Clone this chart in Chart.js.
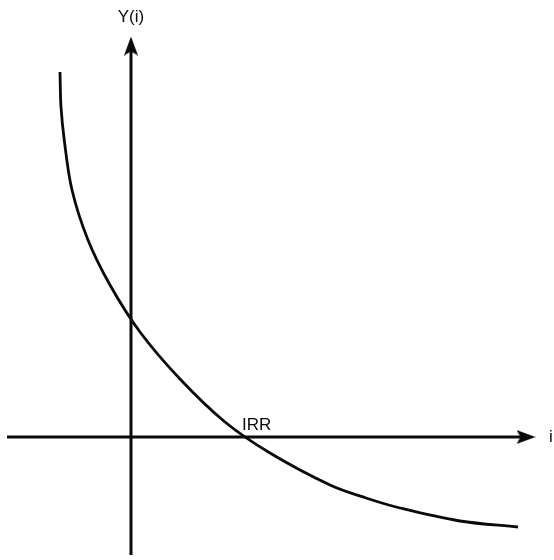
<!DOCTYPE html>
<html>
<head>
<meta charset="utf-8">
<script src="https://cdn.jsdelivr.net/npm/chart.js@4/dist/chart.umd.min.js"></script>
<style>
  html, body { margin: 0; padding: 0; background: #fff; }
  canvas { display: block; }
</style>
</head>
<body>
<canvas id="irrChart" width="554" height="560"></canvas>
<script>
// Y(i) curve (i on x, Y(i) on y, origin at axes crossing)
const curveI = [-0.71, -0.70, -0.665, -0.59, -0.43, -0.21, 0.09, 0.49, 0.94, 1.39, 1.99, 2.35, 2.69, 3.29, 3.87];
const curveY = [3.65, 3.30, 2.95, 2.47, 1.97, 1.52, 1.05, 0.58, 0.15, -0.16, -0.48, -0.61, -0.71, -0.84, -0.90];

// axis extents
const xAxisI = [-1.24, 3.95];
const yAxisY = [-1.18, 3.91];

// text labels
const labelTexts = ['Y(i)', 'i', 'IRR'];
const labelAt = [[0, 4.20], [4.20, 0], [1.11, 0.12]];
const labelAlign = ['center', 'center', 'left'];

const INK = '#0a0a0a';

// arrow head used as point style, pointing up
function makeArrow() {
    const c = document.createElement('canvas');
    c.width = 14;
    c.height = 19;
    const g = c.getContext('2d');
    g.fillStyle = INK;
    g.beginPath();
    g.moveTo(7, 0);
    g.lineTo(14, 19);
    g.lineTo(7, 15);
    g.lineTo(0, 19);
    g.closePath();
    g.fill();
    return c;
}
const arrow = makeArrow();

const labelPlugin = {
    id: 'axisLabels',
    afterDatasetsDraw(chart) {
        const ctx = chart.ctx;
        const xs = chart.scales.x;
        const ys = chart.scales.y;
        ctx.save();
        ctx.fillStyle = INK;
        ctx.font = '17px "Liberation Sans", Arial, sans-serif';
        ctx.textBaseline = 'middle';
        labelTexts.forEach((t, k) => {
            ctx.textAlign = labelAlign[k];
            ctx.fillText(t, xs.getPixelForValue(labelAt[k][0]), ys.getPixelForValue(labelAt[k][1]));
        });
        ctx.restore();
    }
};

const arrowStyle = (ctx) => ctx.dataIndex === 1 ? arrow : 'circle';
const arrowRadius = (ctx) => ctx.dataIndex === 1 ? 9 : 0;

new Chart(document.getElementById('irrChart'), {
    type: 'line',
    data: {
        datasets: [
            {
                label: 'i',
                data: xAxisI.map(v => ({ x: v, y: 0 })),
                borderColor: INK,
                borderWidth: 3,
                pointStyle: arrowStyle,
                pointRadius: arrowRadius,
                pointRotation: 90,
                clip: false
            },
            {
                label: 'Y(i)',
                data: yAxisY.map(v => ({ x: 0, y: v })),
                borderColor: INK,
                borderWidth: 3,
                pointStyle: arrowStyle,
                pointRadius: arrowRadius,
                pointRotation: 0,
                clip: false
            },
            {
                label: 'curve',
                data: curveI.map((v, k) => ({ x: v, y: curveY[k] })),
                borderColor: INK,
                borderWidth: 2.8,
                pointRadius: 0,
                tension: 0.35,
                fill: false,
                clip: false
            }
        ]
    },
    options: {
        responsive: false,
        animation: false,
        layout: { padding: 0, autoPadding: false },
        plugins: {
            legend: { display: false },
            tooltip: { enabled: false }
        },
        scales: {
            x: { type: 'linear', min: -1.31, max: 4.23, display: false },
            y: { type: 'linear', min: -1.23, max: 4.37, display: false }
        }
    },
    plugins: [labelPlugin]
});
</script>
</body>
</html>
